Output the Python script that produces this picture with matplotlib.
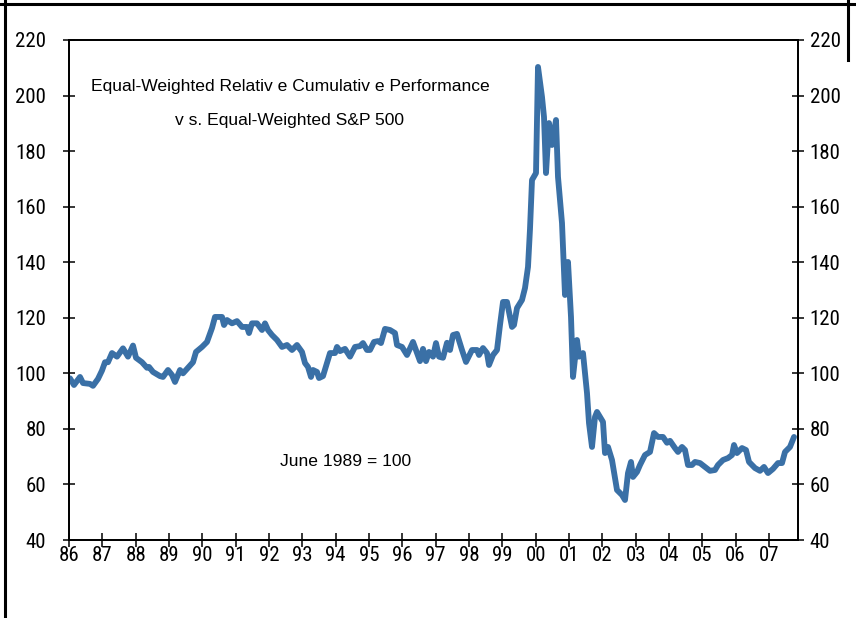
import matplotlib.pyplot as plt
from matplotlib.lines import Line2D

# points (decimal year, index level)
years = [1986.03, 1986.15, 1986.33, 1986.42, 1986.63, 1986.72, 1986.87, 1986.99,
         1987.08, 1987.17, 1987.29, 1987.44, 1987.62, 1987.77, 1987.92, 1988.01,
         1988.19, 1988.34, 1988.40, 1988.52, 1988.73, 1988.82, 1988.97, 1989.09,
         1989.18, 1989.33, 1989.42, 1989.57, 1989.72, 1989.81, 1989.99, 1990.14,
         1990.29, 1990.38, 1990.59, 1990.65, 1990.74, 1990.89, 1991.04, 1991.19,
         1991.34, 1991.40, 1991.49, 1991.64, 1991.79, 1991.88, 1991.97, 1992.09,
         1992.24, 1992.39, 1992.54, 1992.69, 1992.84, 1992.99, 1993.08, 1993.17,
         1993.26, 1993.32, 1993.44, 1993.50, 1993.62, 1993.74, 1993.83, 1993.98,
         1994.04, 1994.13, 1994.28, 1994.43, 1994.58, 1994.73, 1994.82, 1994.94,
         1995.03, 1995.15, 1995.27, 1995.36, 1995.48, 1995.63, 1995.78, 1995.84,
         1995.99, 1996.14, 1996.32, 1996.44, 1996.53, 1996.62, 1996.71, 1996.80,
         1996.92, 1997.01, 1997.10, 1997.22, 1997.34, 1997.43, 1997.52, 1997.64,
         1997.79, 1997.91, 1998.09, 1998.24, 1998.30, 1998.42, 1998.54, 1998.60,
         1998.72, 1998.84, 1998.93, 1999.02, 1999.14, 1999.29, 1999.35, 1999.44,
         1999.59, 1999.68, 1999.77, 1999.83, 1999.89, 2000.01, 2000.07, 2000.19,
         2000.25, 2000.31, 2000.40, 2000.49, 2000.61, 2000.67, 2000.79, 2000.88,
         2000.97, 2001.06, 2001.12, 2001.24, 2001.30, 2001.42, 2001.54, 2001.60,
         2001.69, 2001.78, 2001.84, 2002.02, 2002.08, 2002.17, 2002.29, 2002.44,
         2002.59, 2002.68, 2002.77, 2002.86, 2002.92, 2003.04, 2003.13, 2003.28,
         2003.43, 2003.55, 2003.67, 2003.82, 2003.94, 2004.03, 2004.18, 2004.27,
         2004.39, 2004.48, 2004.57, 2004.69, 2004.78, 2004.93, 2005.08, 2005.23,
         2005.38, 2005.47, 2005.62, 2005.77, 2005.89, 2005.95, 2006.04, 2006.19,
         2006.31, 2006.40, 2006.58, 2006.73, 2006.85, 2006.97, 2007.12, 2007.27,
         2007.39, 2007.48, 2007.63, 2007.75]
values = [98.2, 95.8, 98.7, 96.5, 96.2, 95.5, 98.0, 101.0,
          104.0, 104.0, 107.3, 106.0, 109.0, 106.0, 110.0, 105.6,
          104.0, 102.0, 102.3, 100.5, 99.0, 98.7, 101.2, 99.4,
          96.9, 101.2, 100.0, 102.0, 104.0, 107.7, 109.5, 111.3,
          116.3, 120.3, 120.3, 117.4, 119.2, 118.0, 118.8, 116.7,
          116.7, 114.5, 118.0, 118.0, 115.6, 118.0, 115.6, 113.8,
          112.0, 109.5, 110.2, 108.4, 110.2, 107.7, 103.7, 102.3,
          98.7, 101.2, 100.5, 98.3, 99.0, 103.7, 107.3, 107.3,
          109.5, 108.0, 108.8, 106.0, 109.5, 109.8, 110.9, 108.4,
          108.4, 111.3, 111.6, 110.9, 116.0, 115.6, 114.5, 110.2,
          109.5, 106.6, 111.3, 107.3, 104.4, 108.8, 104.4, 107.7,
          106.0, 110.9, 106.0, 105.6, 111.0, 108.4, 113.8, 114.2,
          108.4, 104.1, 108.4, 108.4, 106.6, 109.1, 107.3, 103.0,
          106.6, 108.4, 117.4, 125.7, 125.7, 116.7, 117.4, 123.5,
          126.4, 130.7, 138.3, 152.0, 169.6, 172.1, 210.3, 199.5,
          192.3, 172.1, 190.1, 182.2, 191.2, 170.7, 154.1, 128.2,
          140.1, 120.3, 98.7, 112.0, 106.0, 107.3, 92.9, 82.1,
          73.5, 84.3, 86.1, 82.5, 71.3, 73.5, 68.8, 58.0,
          56.2, 54.4, 64.1, 68.1, 62.7, 64.5, 67.0, 70.6,
          71.7, 78.5, 77.1, 77.1, 75.0, 75.7, 73.1, 71.7,
          73.5, 72.4, 67.0, 67.0, 68.1, 67.7, 66.3, 64.9,
          65.2, 67.0, 68.8, 69.5, 70.6, 74.2, 71.3, 73.1,
          72.4, 68.1, 65.9, 64.9, 66.3, 64.1, 65.6, 67.7,
          67.7, 71.7, 73.5, 77.1]

y_ticks = [40, 60, 80, 100, 120, 140, 160, 180, 200, 220]
x_tick_years = list(range(1986, 2008))
x_tick_labels = ['86', '87', '88', '89', '90', '91', '92', '93', '94', '95', '96',
                 '97', '98', '99', '00', '01', '02', '03', '04', '05', '06', '07']

narrow = ['Roboto Condensed', 'Liberation Sans', 'DejaVu Sans']
plain = ['Liberation Sans', 'DejaVu Sans']

fig = plt.figure(figsize=(8.56, 6.18), dpi=100)
ax = fig.add_axes([69/856, 78/618, 729/856, 500/618])

ax.plot(years, values, color='#3a70a6', lw=4.2, solid_joinstyle='round',
        solid_capstyle='round')

ax.set_xlim(1986, 2007.87)
ax.set_ylim(40, 220)
ax.set_yticks(y_ticks)
ax.set_xticks(x_tick_years)
ax.set_xticklabels(x_tick_labels, family=narrow, fontsize=15)
ax.set_yticklabels([str(v) for v in y_ticks], family=narrow, fontsize=15)

# right-hand scale with its own padding
ax2 = ax.twinx()
ax2.set_ylim(40, 220)
ax2.set_yticks(y_ticks)
ax2.set_yticklabels([str(v) for v in y_ticks], family=narrow, fontsize=15)

for a in (ax, ax2):
    for s in a.spines.values():
        s.set_linewidth(1.3)
        s.set_color('black')

ax.tick_params(axis='y', direction='inout', length=9, width=1.1, pad=12)
ax2.tick_params(axis='y', direction='inout', length=9, width=1.1, pad=4)
ax.tick_params(axis='x', direction='inout', length=10, width=1.1, pad=-1)

ax.text(0.303, 0.906, 'Equal-Weighted Relativ e Cumulativ e Performance',
        transform=ax.transAxes, ha='center', va='center', fontsize=12.6, family=plain)
ax.text(0.303, 0.838, 'v s. Equal-Weighted S&P 500',
        transform=ax.transAxes, ha='center', va='center', fontsize=12.6, family=plain)
ax.text(0.379, 0.158, 'June 1989 = 100',
        transform=ax.transAxes, ha='center', va='center', fontsize=12.6, family=plain)

# outer frame of the slide
fig.add_artist(Line2D([5/856, 5/856], [0, 1], transform=fig.transFigure,
                      color='black', lw=2.2))
fig.add_artist(Line2D([0, 1], [1 - 4/618, 1 - 4/618], transform=fig.transFigure,
                      color='black', lw=2.2))
fig.add_artist(Line2D([848/856, 848/856], [1 - 60/618, 1], transform=fig.transFigure,
                      color='black', lw=2.2))

fig.savefig('out.png', dpi=100)
